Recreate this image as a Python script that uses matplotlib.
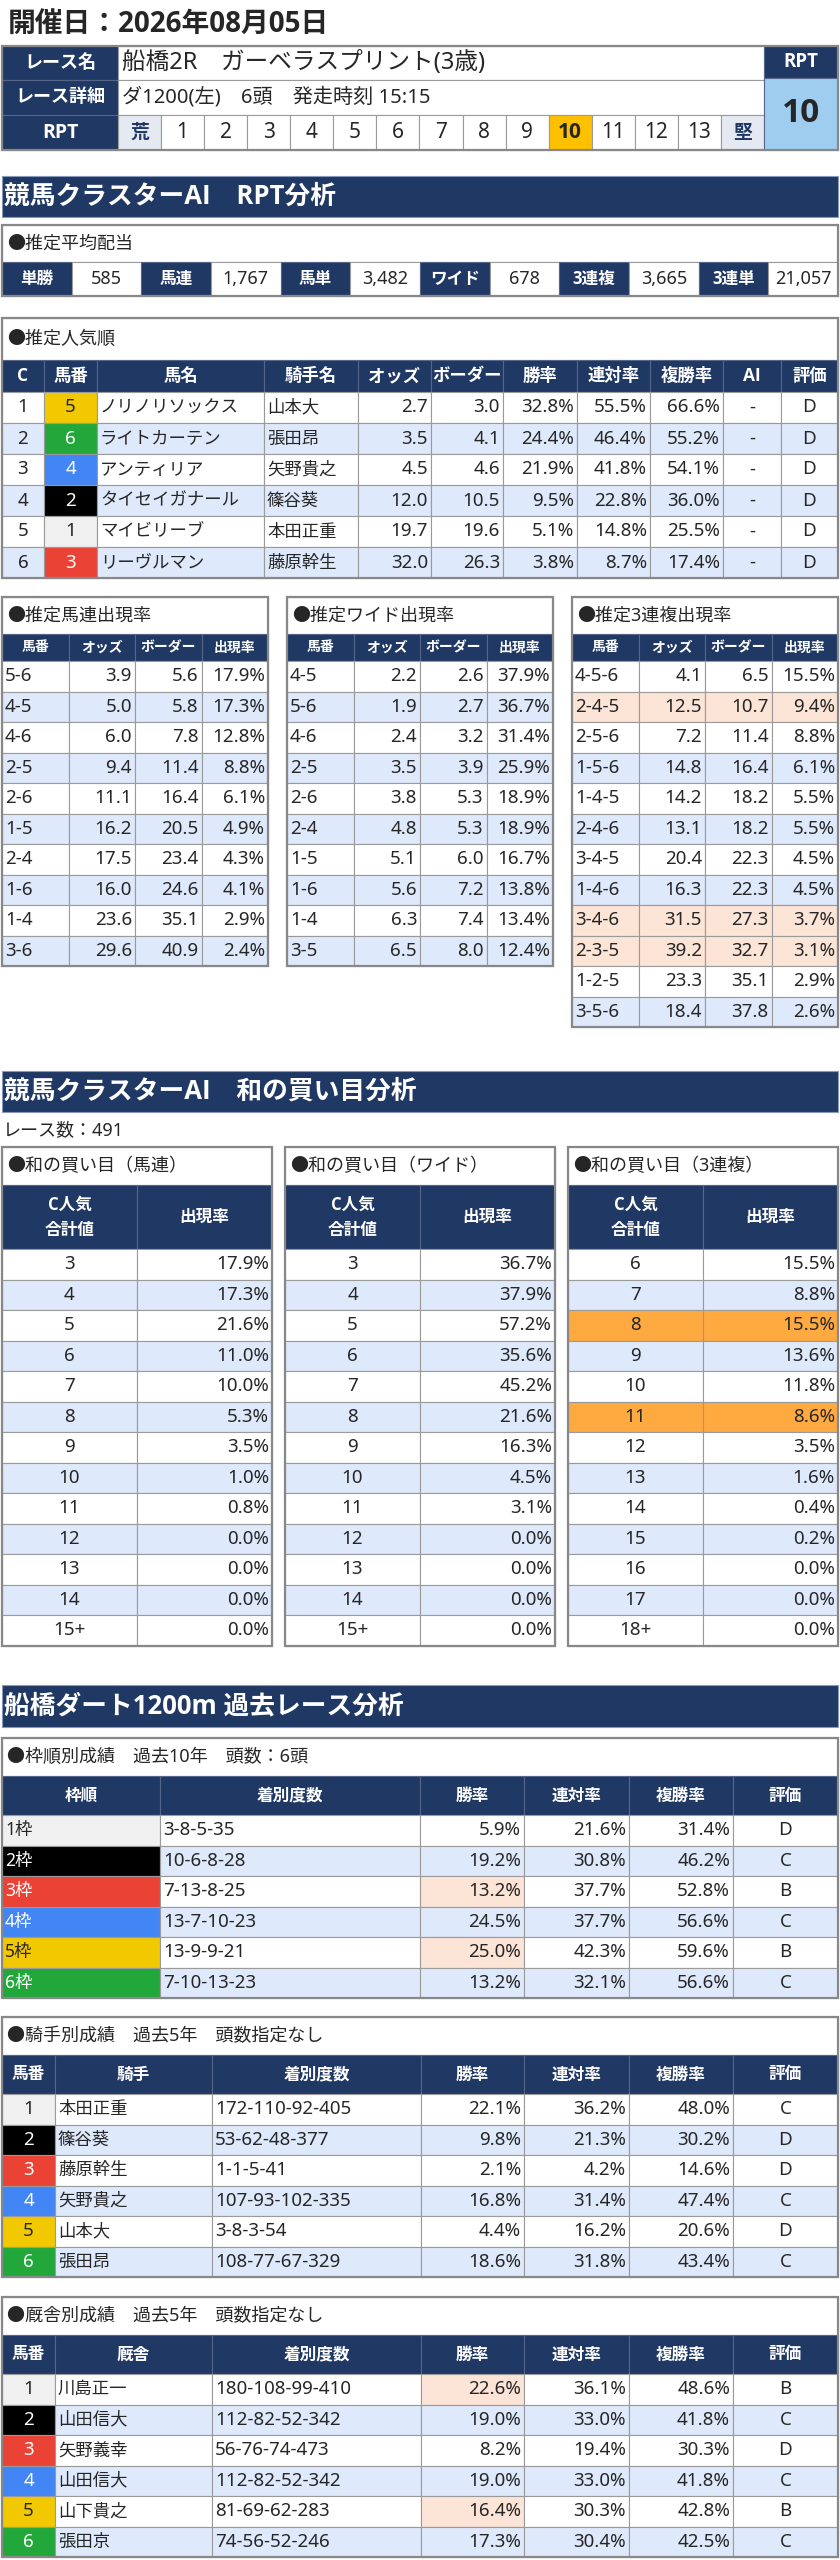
import matplotlib
matplotlib.use("Agg")
import matplotlib.pyplot as plt
from matplotlib.patches import Rectangle

# Latin glyphs from Noto Sans, Japanese falls back to Noto Sans CJK JP
plt.rcParams['font.family'] = ['Noto Sans', 'Noto Sans CJK JP', 'DejaVu Sans']
BOLD_FAMILY = ['Open Sans', 'Noto Sans CJK JP', 'DejaVu Sans']

# ---------------- data ----------------
race_date = "開催日：2026年08月05日"
race_name = "船橋2R　ガーベラスプリント(3歳)"
race_detail = "ダ1200(左)　6頭　発走時刻 15:15"
rpt_scale = ["荒", "1", "2", "3", "4", "5", "6", "7", "8", "9", "10", "11", "12", "13", "堅"]
rpt_value = "10"

payout_labels = ["単勝", "馬連", "馬単", "ワイド", "3連複", "3連単"]
payout_values = ["585", "1,767", "3,482", "678", "3,665", "21,057"]

pop_c = [1, 2, 3, 4, 5, 6]
pop_umaban = [5, 6, 4, 2, 1, 3]
pop_names = ["ノリノリソックス", "ライトカーテン", "アンティリア", "タイセイガナール", "マイビリーブ", "リーヴルマン"]
pop_jockeys = ["山本大", "張田昂", "矢野貴之", "篠谷葵", "本田正重", "藤原幹生"]
pop_odds = [2.7, 3.5, 4.5, 12.0, 19.7, 32.0]
pop_border = [3.0, 4.1, 4.6, 10.5, 19.6, 26.3]
pop_win = [32.8, 24.4, 21.9, 9.5, 5.1, 3.8]
pop_rentai = [55.5, 46.4, 41.8, 22.8, 14.8, 8.7]
pop_fuku = [66.6, 55.2, 54.1, 36.0, 25.5, 17.4]
pop_ai = ["-", "-", "-", "-", "-", "-"]
pop_eval = ["D", "D", "D", "D", "D", "D"]

umaren_combo = ["5-6", "4-5", "4-6", "2-5", "2-6", "1-5", "2-4", "1-6", "1-4", "3-6"]
umaren_odds = [3.9, 5.0, 6.0, 9.4, 11.1, 16.2, 17.5, 16.0, 23.6, 29.6]
umaren_border = [5.6, 5.8, 7.8, 11.4, 16.4, 20.5, 23.4, 24.6, 35.1, 40.9]
umaren_rate = [17.9, 17.3, 12.8, 8.8, 6.1, 4.9, 4.3, 4.1, 2.9, 2.4]

wide_combo = ["4-5", "5-6", "4-6", "2-5", "2-6", "2-4", "1-5", "1-6", "1-4", "3-5"]
wide_odds = [2.2, 1.9, 2.4, 3.5, 3.8, 4.8, 5.1, 5.6, 6.3, 6.5]
wide_border = [2.6, 2.7, 3.2, 3.9, 5.3, 5.3, 6.0, 7.2, 7.4, 8.0]
wide_rate = [37.9, 36.7, 31.4, 25.9, 18.9, 18.9, 16.7, 13.8, 13.4, 12.4]

trio_combo = ["4-5-6", "2-4-5", "2-5-6", "1-5-6", "1-4-5", "2-4-6",
              "3-4-5", "1-4-6", "3-4-6", "2-3-5", "1-2-5", "3-5-6"]
trio_odds = [4.1, 12.5, 7.2, 14.8, 14.2, 13.1, 20.4, 16.3, 31.5, 39.2, 23.3, 18.4]
trio_border = [6.5, 10.7, 11.4, 16.4, 18.2, 18.2, 22.3, 22.3, 27.3, 32.7, 35.1, 37.8]
trio_rate = [15.5, 9.4, 8.8, 6.1, 5.5, 5.5, 4.5, 4.5, 3.7, 3.1, 2.9, 2.6]

race_count = 491
umaren_sum = ["3", "4", "5", "6", "7", "8", "9", "10", "11", "12", "13", "14", "15+"]
umaren_sum_rate = [17.9, 17.3, 21.6, 11.0, 10.0, 5.3, 3.5, 1.0, 0.8, 0.0, 0.0, 0.0, 0.0]
wide_sum = ["3", "4", "5", "6", "7", "8", "9", "10", "11", "12", "13", "14", "15+"]
wide_sum_rate = [36.7, 37.9, 57.2, 35.6, 45.2, 21.6, 16.3, 4.5, 3.1, 0.0, 0.0, 0.0, 0.0]
trio_sum = ["6", "7", "8", "9", "10", "11", "12", "13", "14", "15", "16", "17", "18+"]
trio_sum_rate = [15.5, 8.8, 15.5, 13.6, 11.8, 8.6, 3.5, 1.6, 0.4, 0.2, 0.0, 0.0, 0.0]

waku_labels = ["1枠", "2枠", "3枠", "4枠", "5枠", "6枠"]
waku_record = ["3-8-5-35", "10-6-8-28", "7-13-8-25", "13-7-10-23", "13-9-9-21", "7-10-13-23"]
waku_win = [5.9, 19.2, 13.2, 24.5, 25.0, 13.2]
waku_rentai = [21.6, 30.8, 37.7, 37.7, 42.3, 32.1]
waku_fuku = [31.4, 46.2, 52.8, 56.6, 59.6, 56.6]
waku_eval = ["D", "C", "B", "C", "B", "C"]

jockey_names = ["本田正重", "篠谷葵", "藤原幹生", "矢野貴之", "山本大", "張田昂"]
jockey_record = ["172-110-92-405", "53-62-48-377", "1-1-5-41", "107-93-102-335", "3-8-3-54", "108-77-67-329"]
jockey_win = [22.1, 9.8, 2.1, 16.8, 4.4, 18.6]
jockey_rentai = [36.2, 21.3, 4.2, 31.4, 16.2, 31.8]
jockey_fuku = [48.0, 30.2, 14.6, 47.4, 20.6, 43.4]
jockey_eval = ["C", "D", "D", "C", "D", "C"]

trainer_names = ["川島正一", "山田信大", "矢野義幸", "山田信大", "山下貴之", "張田京"]
trainer_record = ["180-108-99-410", "112-82-52-342", "56-76-74-473", "112-82-52-342", "81-69-62-283", "74-56-52-246"]
trainer_win = [22.6, 19.0, 8.2, 19.0, 16.4, 17.3]
trainer_rentai = [36.1, 33.0, 19.4, 33.0, 30.3, 30.4]
trainer_fuku = [48.6, 41.8, 30.3, 41.8, 42.8, 42.5]
trainer_eval = ["B", "C", "D", "C", "B", "C"]

# ---------------- style ----------------
NAVY = "#203864"
ALT = "#DEE9FB"
PEACH = "#FCE4D6"
ORANGE = "#FFAA40"
GOLD = "#FFC000"
RPT_BLUE = "#9FCDF0"
END_CELL = "#E4E9F2"
GRID = "#9A9A9A"
TXT = "#262626"
WAKU_FC = {1: "#F0F0F0", 2: "#000000", 3: "#EA4335", 4: "#4285F4", 5: "#F2C800", 6: "#22A83A"}
WAKU_TC = {1: TXT, 2: "white", 3: "white", 4: "white", 5: TXT, 6: "white"}
NUM = 13.5   # numbers / latin in cells
JP = 12.5    # japanese text in cells
HDR = 12     # table header

fig = plt.figure(figsize=(8.4, 25.6), dpi=100)
ax = fig.add_axes([0, 0, 1, 1])
ax.set_xlim(0, 840)
ax.set_ylim(2560, 0)
ax.axis("off")


def cell(x, y, w, h, text="", fc="white", color=TXT, ha="center", size=NUM,
         weight="normal", ec=GRID, lw=0.8, pad=4, **kw):
    ax.add_patch(Rectangle((x, y), w, h, facecolor=fc, edgecolor=ec, linewidth=lw))
    if text != "":
        tx = {"left": x + pad, "right": x + w - pad, "center": x + w / 2}[ha]
        if weight == "bold":
            kw["family"] = BOLD_FAMILY
        ax.text(tx, y + h / 2, text, ha=ha, va="center", color=color,
                fontsize=size, fontweight=weight, **kw)


def band(y, h, text):
    cell(2, y, 836, h, "", fc=NAVY, ec="#8899BB")
    ax.text(4, y + h / 2, text, ha="left", va="center", color="white",
            fontsize=18.5, fontweight="bold", family=BOLD_FAMILY)


def box_title(x, y, w, h, text):
    cell(x, y, w, h, "", fc="white")
    ax.text(x + 5, y + h / 2, "●" + text, ha="left", va="center", color=TXT, fontsize=13)


def outline(x, y, w, h):
    ax.add_patch(Rectangle((x, y), w, h, fill=False, edgecolor="#888888", linewidth=1.6))


def header_row(x, y, bounds, h, labels, size=HDR, **kw):
    for i, lab in enumerate(labels):
        cell(x + bounds[i], y, bounds[i + 1] - bounds[i], h, lab, fc=NAVY,
             color="white", weight="bold", size=size, ec="#556688", **kw)


def pct(v):
    return f"{v:.1f}%"


# ---------------- title ----------------
ax.text(8, 25, race_date, ha="left", va="center", fontsize=20, fontweight="bold",
        color=TXT, family=BOLD_FAMILY)

# race info box
for y0, h, lab, sz in [(46, 34, "レース名", 13), (80, 35, "レース詳細", 13), (115, 35, "RPT", 14)]:
    cell(2, y0, 116, h, lab, fc=NAVY, color="white", weight="bold", size=sz, ec="#556688")
cell(118, 46, 646, 34, race_name, ha="left", size=17)
cell(118, 80, 646, 35, race_detail, ha="left", size=14.5)
sw = 646 / len(rpt_scale)
for i, s in enumerate(rpt_scale):
    if s == rpt_value:
        cell(118 + i * sw, 115, sw, 35, s, fc=GOLD, weight="bold", size=15)
    elif s in ("荒", "堅"):
        cell(118 + i * sw, 115, sw, 35, s, fc=END_CELL, color=NAVY, weight="bold", size=13.5)
    else:
        cell(118 + i * sw, 115, sw, 35, s, size=15)
cell(764, 46, 74, 32, "RPT", fc=NAVY, color="white", weight="bold", size=13.5, ec="#556688")
cell(764, 78, 74, 72, rpt_value, fc=RPT_BLUE, weight="bold", size=24, ec="#556688")
outline(2, 46, 836, 104)

# ---------------- section 1 ----------------
band(176, 41, "競馬クラスターAI　RPT分析")

# payout
box_title(2, 225, 836, 37, "推定平均配当")
pw = 836 / 12
for i, (lab, val) in enumerate(zip(payout_labels, payout_values)):
    cell(2 + 2 * i * pw, 262, pw, 34, lab, fc=NAVY, color="white", weight="bold", size=12, ec="#556688")
    cell(2 + (2 * i + 1) * pw, 262, pw, 34, val, size=13)
outline(2, 225, 836, 71)

# popularity
pop_bounds = [0, 42, 95, 262, 356, 429, 501, 575, 648, 721, 779, 836]
pop_header = ["C", "馬番", "馬名", "騎手名", "オッズ", "ボーダー", "勝率", "連対率", "複勝率", "AI", "評価"]
box_title(2, 318, 836, 42, "推定人気順")
header_row(2, 360, pop_bounds, 32, pop_header, size=12.5)
RH = 31
for r in range(len(pop_c)):
    y = 392 + r * RH
    fc = "white" if r % 2 == 0 else ALT
    ub = pop_umaban[r]
    vals = [str(pop_c[r]), str(ub), pop_names[r], pop_jockeys[r],
            f"{pop_odds[r]:.1f}", f"{pop_border[r]:.1f}", pct(pop_win[r]),
            pct(pop_rentai[r]), pct(pop_fuku[r]), pop_ai[r], pop_eval[r]]
    aligns = ["center", "center", "left", "left", "right", "right", "right",
              "right", "right", "center", "center"]
    for c, (v, a) in enumerate(zip(vals, aligns)):
        x = 2 + pop_bounds[c]
        w = pop_bounds[c + 1] - pop_bounds[c]
        if c == 1:
            cell(x, y, w, RH, v, fc=WAKU_FC[ub], color=WAKU_TC[ub])
        else:
            cell(x, y, w, RH, v, fc=fc, ha=a, size=JP if c in (2, 3) else NUM, pad=3)
outline(2, 318, 836, 74 + RH * len(pop_c))

# combination tables
mini = [("推定馬連出現率", umaren_combo, umaren_odds, umaren_border, umaren_rate),
        ("推定ワイド出現率", wide_combo, wide_odds, wide_border, wide_rate),
        ("推定3連複出現率", trio_combo, trio_odds, trio_border, trio_rate)]
mini_x = [2, 287, 572]
MW = 266
mb = [0, 66.5, 133, 199.5, 266]
MRH = 30.5
for bx, (title, combos, odds, border, rate) in zip(mini_x, mini):
    box_title(bx, 597, MW, 37, title)
    header_row(bx, 634, mb, 27, ["馬番", "オッズ", "ボーダー", "出現率"], size=10)
    for r in range(len(combos)):
        y = 661 + r * MRH
        fc = "white" if r % 2 == 0 else ALT
        if odds[r] > border[r]:
            fc = PEACH
        vals = [combos[r], f"{odds[r]:.1f}", f"{border[r]:.1f}", pct(rate[r])]
        for c, v in enumerate(vals):
            cell(bx + mb[c], y, mb[c + 1] - mb[c], MRH, v, fc=fc,
                 ha="left" if c == 0 else "right", pad=3)
    outline(bx, 597, MW, 64 + MRH * len(combos))

# ---------------- section 2 ----------------
band(1071, 41, "競馬クラスターAI　和の買い目分析")
ax.text(3, 1130, f"レース数：{race_count}", ha="left", va="center", fontsize=13, color=TXT)

# sums of popularity ranks for trio combos worth buying (odds above border)
c_of = dict(zip(pop_umaban, pop_c))
trio_hot = {str(sum(c_of[int(h)] for h in cb.split("-")))
            for cb, o, b in zip(trio_combo, trio_odds, trio_border) if o > b}

sums = [("和の買い目（馬連）", umaren_sum, umaren_sum_rate, set()),
        ("和の買い目（ワイド）", wide_sum, wide_sum_rate, set()),
        ("和の買い目（3連複）", trio_sum, trio_sum_rate, trio_hot)]
sum_x = [2, 285, 568]
SW = 270
sb = [0, 135, 270]
for bx, (title, labels, rate, hot) in zip(sum_x, sums):
    box_title(bx, 1147, SW, 38, title)
    header_row(bx, 1185, sb, 64, ["C人気\n合計値", "出現率"], size=12, linespacing=1.5)
    for r in range(len(labels)):
        y = 1249 + r * MRH
        fc = "white" if r % 2 == 0 else ALT
        if labels[r] in hot:
            fc = ORANGE
        cell(bx, y, 135, MRH, labels[r], fc=fc)
        cell(bx + 135, y, 135, MRH, pct(rate[r]), fc=fc, ha="right", pad=3)
    outline(bx, 1147, SW, 102 + MRH * len(labels))

# ---------------- section 3 ----------------
band(1685, 42, "船橋ダート1200m 過去レース分析")

waku_bounds = [0, 158, 418, 522, 627, 731, 836]
box_title(2, 1738, 836, 38, "枠順別成績　過去10年　頭数：6頭")
header_row(2, 1776, waku_bounds, 39, ["枠順", "着別度数", "勝率", "連対率", "複勝率", "評価"])
for r in range(len(waku_labels)):
    y = 1815 + r * MRH
    fc = "white" if r % 2 == 0 else ALT
    n = r + 1
    vals = [waku_record[r], pct(waku_win[r]), pct(waku_rentai[r]), pct(waku_fuku[r]), waku_eval[r]]
    cell(2, y, 158, MRH, waku_labels[r], fc=WAKU_FC[n], color=WAKU_TC[n], ha="left", pad=3, size=JP)
    for c, v in enumerate(vals):
        x = 2 + waku_bounds[c + 1]
        w = waku_bounds[c + 2] - waku_bounds[c + 1]
        cf = PEACH if (c == 1 and waku_eval[r] == "B") else fc
        cell(x, y, w, MRH, v, fc=cf, ha="left" if c == 0 else ("center" if c == 4 else "right"), pad=3)
outline(2, 1738, 836, 77 + MRH * 6)

person_bounds = [0, 53, 210, 419, 522, 627, 731, 836]
people = [(2017, "騎手別成績　過去5年　頭数指定なし", "騎手", jockey_names, jockey_record,
           jockey_win, jockey_rentai, jockey_fuku, jockey_eval),
          (2297, "厩舎別成績　過去5年　頭数指定なし", "厩舎", trainer_names, trainer_record,
           trainer_win, trainer_rentai, trainer_fuku, trainer_eval)]
for top, title, who, names, record, win, rentai, fuku, ev in people:
    box_title(2, top, 836, 38, title)
    header_row(2, top + 38, person_bounds, 39, ["馬番", who, "着別度数", "勝率", "連対率", "複勝率", "評価"])
    for r in range(len(names)):
        y = top + 77 + r * MRH
        fc = "white" if r % 2 == 0 else ALT
        n = r + 1
        cell(2, y, 53, MRH, str(n), fc=WAKU_FC[n], color=WAKU_TC[n])
        vals = [names[r], record[r], pct(win[r]), pct(rentai[r]), pct(fuku[r]), ev[r]]
        aligns = ["left", "left", "right", "right", "right", "center"]
        for c, (v, a) in enumerate(zip(vals, aligns)):
            x = 2 + person_bounds[c + 1]
            w = person_bounds[c + 2] - person_bounds[c + 1]
            cf = PEACH if (c == 2 and ev[r] == "B") else fc
            cell(x, y, w, MRH, v, fc=cf, ha=a, pad=3, size=JP if c == 0 else NUM)
    outline(2, top, 836, 77 + MRH * len(names))

fig.savefig("out.png", dpi=100, facecolor="white")
